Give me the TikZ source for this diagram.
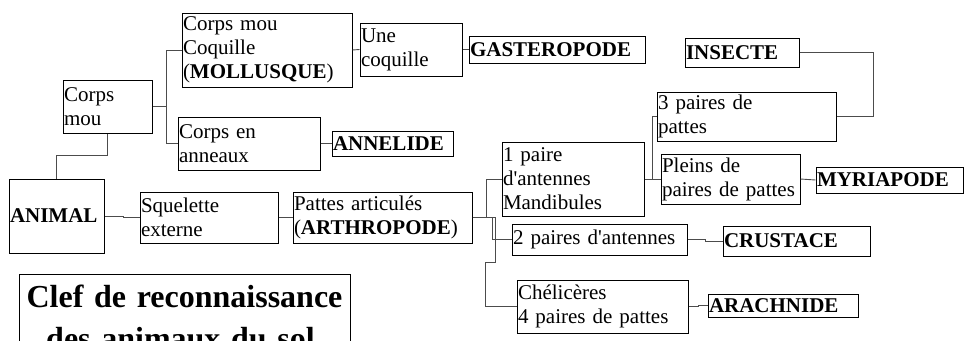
\documentclass[tikz,border=0pt]{standalone}
\usepackage{fontspec}
\setmainfont[Ligatures=TeXOff]{Liberation Serif}
\begin{document}
\begin{tikzpicture}[x=1pt, y=-1pt,
  every node/.style={font=\fontsize{21}{24}\selectfont},
  box/.style={draw=black, line width=1pt, inner xsep=1pt, inner ysep=0pt, align=left},
  conn/.style={draw=black!70, line width=0.9pt}]
\useasboundingbox (0,0) rectangle (974,340);
\clip (0,0) rectangle (974,340);
% Boxes
\node[box, minimum width=95, minimum height=74, text width=93] (animal) at (56.5,216) {\textbf{ANIMAL}};
\node[box, minimum width=89, minimum height=53, text width=87] (cmou) at (107.5,106.5) {Corps\\mou};
\node[box, minimum width=170, minimum height=74, text width=168] (moll) at (267,50) {Corps mou\\Coquille\\(\textbf{MOLLUSQUE})};
\node[box, minimum width=142, minimum height=53, text width=140] (anneaux) at (249,143.5) {Corps en\\anneaux};
\node[box, minimum width=102, minimum height=53, text width=100] (coq) at (411,49.5) {Une\\coquille};
\node[box, minimum width=176, minimum height=27, text width=174] (gast) at (557,49.5) {\textbf{GASTEROPODE}};
\node[box, minimum width=121, minimum height=25, text width=119] (annel) at (392.5,143.5) {\textbf{ANNELIDE}};
\node[box, minimum width=138, minimum height=51, text width=136] (squel) at (209,217.5) {Squelette\\externe};
\node[box, minimum width=179, minimum height=51, text width=177] (arth) at (382.5,217.5) {Pattes articulés\\(\textbf{ARTHROPODE})};
\node[box, minimum width=142, minimum height=74, text width=140] (unepaire) at (573,179) {1 paire\\d'antennes\\Mandibules};
\node[box, minimum width=175, minimum height=31, text width=173] (deuxp) at (599.5,239.5) {2 paires d'antennes};
\node[box, minimum width=171, minimum height=53, text width=169] (chel) at (602.5,306.5) {Chélicères\\4 paires de pattes};
\node[box, minimum width=179, minimum height=49, text width=177] (troisp) at (746.5,116.5) {3 paires de\\pattes};
\node[box, minimum width=139, minimum height=50, text width=137] (pleins) at (730.5,179) {Pleins de\\paires de pattes};
\node[box, minimum width=114, minimum height=29, text width=112] (insecte) at (742,52.5) {\textbf{INSECTE}};
\node[box, minimum width=147, minimum height=26, text width=145] (myria) at (889.5,180) {\textbf{MYRIAPODE}};
\node[box, minimum width=147, minimum height=30, text width=145] (crust) at (796.5,241) {\textbf{CRUSTACE}};
\node[box, minimum width=150, minimum height=23, text width=148] (arach) at (783,305.5) {\textbf{ARACHNIDE}};
% Title
\node[box, align=center, minimum width=331, minimum height=86, text width=329,
  font=\fontsize{32}{42}\selectfont\bfseries] (titre) at (184.5,317) {Clef de reconnaissance\\des animaux du sol.};
% Connectors
\draw[conn] (animal.east) -- ++(19,0) |- (squel.west);
\draw[conn] (squel.east) -- (arth.west);
\draw[conn] (animal.north) -- ++(0,-23) -| (cmou.south);
\draw[conn] (cmou.east) -- ++(14,0) coordinate (cm1) |- (moll.west);
\draw[conn] (cm1) |- (anneaux.west);
\draw[conn] (moll.east) -- (coq.west);
\draw[conn] (coq.east) -- (gast.west);
\draw[conn] (anneaux.east) -- (annel.west);
\draw[conn] (arth.east) -- ++(14,0) |- (unepaire.west);
\draw[conn] (arth.east) -- ++(20,0) |- (deuxp.west);
\draw[conn] (arth.east) -- ++(23,0) -- ++(0,44.5) -- ++(-10,0) |- (chel.west);
\draw[conn] (unepaire.east) -- ++(8,0) coordinate (up1) |- (troisp.west);
\draw[conn] (up1) |- (pleins.west);
\draw[conn] (pleins.east) -- (myria.west);
\draw[conn] (troisp.east) -- ++(37,0) |- (insecte.east);
\draw[conn] (deuxp.east) -- ++(18,0) |- (crust.west);
\draw[conn] (chel.east) -- ++(10,0) |- (arach.west);
\end{tikzpicture}
\end{document}
